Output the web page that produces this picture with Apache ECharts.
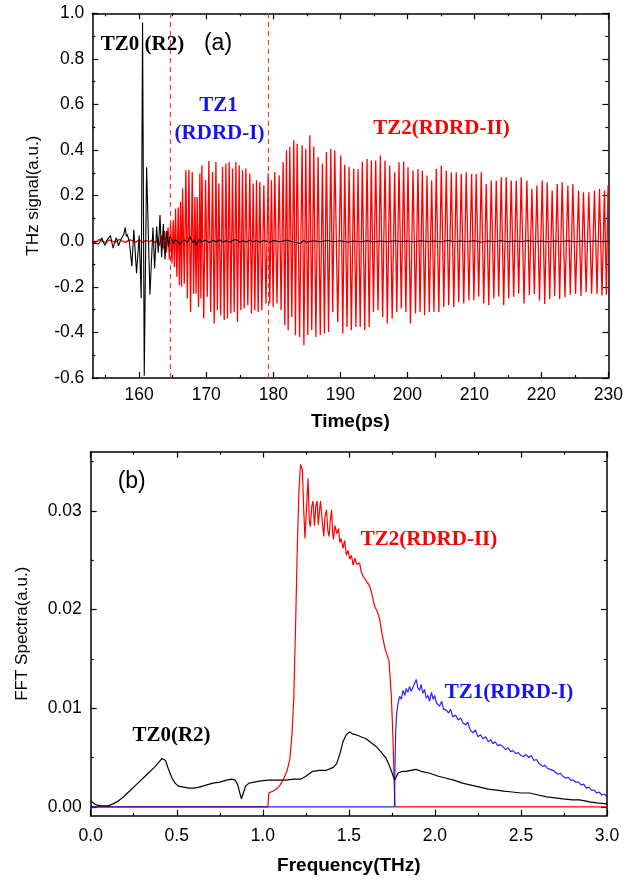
<!DOCTYPE html>
<html><head><meta charset="utf-8">
<script src="https://cdn.jsdelivr.net/npm/echarts@6/dist/echarts.min.js"></script>
<style>html,body{margin:0;padding:0;background:#fff}#c{width:626px;height:882px}</style>
</head><body><div id="c"></div><script>
// ---------- Data (a): time-domain THz signal ----------
const timeMajor = [160,170,180,190,200,210,220,230];
const timeMinor = [155,165,175,185,195,205,215,225];
const signalMajor = [-0.6,-0.4,-0.2,0.0,0.2,0.4,0.6,0.8,1.0];
const signalMinor = [-0.5,-0.3,-0.1,0.1,0.3,0.5,0.7,0.9];
const dashedTimes = [164.7, 179.2];

const blackSignal = [
[153.0,0.0],[153.4,-0.01],[153.9,-0.012],[154.2,0.0],[154.4,0.015],[154.7,-0.008],[154.9,-0.018],[155.2,0.005],[155.4,0.012],[155.7,0.025],[155.9,0.03],[156.1,-0.03],[156.4,0.0],[156.6,0.015],[156.9,-0.02],[157.1,-0.025],[157.3,0.01],[157.5,0.012],[157.7,0.03],[157.9,0.06],[158.1,0.02],[158.2,0.03],[158.5,0.003],[158.7,-0.05],[158.9,-0.11],[159.2,0.05],[159.6,-0.14],[160.0,0.025],[160.3,-0.25],[160.5,0.96],[160.75,-0.59],[161.1,0.325],[161.6,-0.235],[162.05,0.06],[162.3,-0.12],[162.6,0.065],[162.84,-0.05],[163.1,0.115],[163.34,-0.07],[163.6,0.075],[163.85,-0.08],[164.1,0.045],[164.35,-0.025],[164.58,0.02],
[164.8,0.015],[165.1,-0.01],[165.35,0.008],[165.6,0.015],[165.85,-0.005],[166.07,-0.015],[166.4,0.0],[166.8,0.005],[167.2,-0.006],[167.56,0.022],[167.8,0.004],[168.06,-0.005],[168.3,0.006],[168.55,-0.018],[168.8,0.0],[169.05,0.01],[169.3,-0.004],[169.55,-0.01],[169.8,0.004],[170.05,0.005],[170.5,-0.006],[171.0,0.004],[171.5,-0.003],[172.0,0.006],[172.5,-0.004],[173.0,0.003],[173.5,-0.005],[174.0,0.004],[174.5,0.008],[175.0,-0.004],[175.5,0.002],[176.0,-0.003],[176.5,0.004],[177.0,-0.002],[177.5,0.003],[178.0,-0.004],[178.5,0.003],[179.0,0.0],[179.5,-0.004],[180,0.003],[181,-0.002],[182,0.004],[183,-0.003],[184,-0.01],[184.5,0.003],[185,-0.004],[186,0.002],[187,-0.002],[188,0.003],[189,-0.002],[190,0.002],[191,-0.003],[192,0.001],[193,-0.002],[194,0.002],[195,-0.002],[196,0.001],[197,-0.002],[198,0.002],[199,-0.001],[200,0.001],[201,-0.002],[202,0.002],[203,-0.001],[204,0.001],[205,-0.002],[206,0.003],[207,-0.001],[208,0.001],[209,-0.001],[210,0.002],[211,-0.003],[212,0.001],[213,-0.001],[214,0.002],[215,-0.002],[216,0.001],[217,-0.001],[218,0.002],[219,-0.001],[220,0.001],[221,-0.002],[222,0.001],[223,-0.001],[224,0.002],[225,-0.002],[226,0.001],[227,-0.001],[228,0.001],[229,-0.001],[230,0.0]
];

const redSignal = [
[153,0.004],[153.5,-0.006],[154,0.008],[154.5,0.0],[155,-0.006],[155.5,0.005],[156,0.0],[156.5,-0.004],[157,0.008],[157.5,0.0],[158,-0.005],[158.5,0.006],[159,0.003],[159.5,-0.004],[160,0.006],[160.5,-0.006],[161,0.004],[161.5,-0.003],[162,0.006],[162.4,-0.008],[162.8,0.012],[163.05,-0.02],[163.3,0.025],[163.55,-0.035],[163.8,0.045],[164.05,-0.05],[164.3,0.06],[164.5,-0.08],
[164.68,0.085],[164.88,-0.098],[165.08,0.092],[165.25,-0.113],[165.42,0.143],[165.62,-0.156],[165.82,0.148],[166.0,-0.193],[166.17,0.173],[166.32,-0.200],[166.47,0.231],[166.72,-0.186],[166.96,0.311],[167.18,-0.251],[167.41,0.314],[167.66,-0.310],[167.91,0.304],[168.11,-0.230],[168.31,0.194],[168.48,-0.230],[168.65,0.194],[168.85,-0.288],[169.05,0.297],[169.2,-0.251],[169.35,0.333],[169.62,-0.339],[169.90,0.268],[170.15,-0.244],[170.39,0.352],[170.66,-0.310],[170.94,0.304],[171.19,-0.361],[171.44,0.348],[171.66,-0.303],[171.88,0.253],[172.15,-0.325],[172.43,0.326],[172.68,-0.346],[172.93,0.341],[173.17,-0.339],[173.42,0.348],[173.67,-0.317],[173.92,0.319],[174.17,-0.310],[174.42,0.348],[174.66,-0.354],[174.91,0.333],[175.16,-0.303],[175.41,0.311],[175.66,-0.295],[175.91,0.319],[176.2,-0.281],[176.50,0.297],[176.75,-0.317],[177.00,0.253],[177.25,-0.303],[177.50,0.268],[177.75,-0.310],[177.99,0.260],[178.29,-0.303],[178.59,0.246],[178.91,-0.273],[179.24,0.297],[179.48,-0.273],[179.73,0.268],[179.98,-0.288],[180.23,0.304],[180.55,-0.273],[180.88,0.289],[181.17,-0.303],[181.47,0.348],[181.72,-0.368],[181.97,0.399],[182.22,-0.390],[182.47,0.414],[182.76,-0.332],[183.06,0.443],[183.31,-0.412],[183.56,0.428],[183.93,-0.420],[184.30,0.421],[184.57,-0.456],[184.85,0.406],[185.15,-0.412],[185.45,0.465],[185.74,-0.390],[186.04,0.414],[186.36,-0.420],[186.69,0.370],[187.01,-0.412],[187.33,0.341],[187.63,-0.405],[187.93,0.392],[188.25,-0.398],[188.58,0.406],[188.87,-0.310],[189.17,0.399],[189.62,-0.354],
[190.07,0.376],[190.37,-0.405],[190.66,0.335],[191.0,-0.376],[191.31,0.327],[191.65,-0.390],[192.00,0.317],[192.33,-0.376],[192.65,0.317],[192.97,-0.376],[193.29,0.349],[193.64,-0.390],[193.99,0.361],[194.31,-0.376],[194.63,0.354],[194.95,-0.310],[195.28,0.354],[195.63,-0.303],[195.98,0.376],[196.32,-0.332],[196.67,0.354],[197.02,-0.361],[197.37,0.332],[197.74,-0.339],[198.11,0.303],[198.43,-0.310],[198.76,0.346],[199.1,-0.295],[199.45,0.349],[199.78,-0.310],[200.10,0.325],[200.47,-0.361],[200.85,0.310],[201.22,-0.317],[201.59,0.317],[201.9,-0.310],[202.24,0.310],[202.58,-0.325],[202.93,0.288],[203.28,-0.310],[203.63,0.266],[203.97,-0.310],[204.32,0.317],[204.7,-0.310],[205.07,0.332],[205.44,-0.288],[205.81,0.310],[206.18,-0.281],[206.56,0.303],[206.93,-0.288],[207.30,0.303],[207.67,-0.266],[208.05,0.295],[208.42,-0.273],[208.79,0.303],[209.19,-0.259],[209.59,0.295],[209.93,-0.259],[210.28,0.295],[210.65,-0.244],[211.03,0.303],[211.4,-0.273],[211.77,0.251],[212.15,-0.281],[212.52,0.266],[212.9,-0.251],[213.27,0.266],[213.64,-0.244],[214.01,0.281],[214.38,-0.281],[214.76,0.281],[215.13,-0.251],[215.50,0.266],[215.87,-0.244],[216.25,0.266],[216.62,-0.230],[216.99,0.281],[217.41,-0.273],[217.84,0.266],[218.21,-0.237],[218.58,0.230],[218.95,-0.231],[219.33,0.244],[219.72,-0.260],[220.12,0.266],[220.5,-0.275],[220.87,0.259],[221.24,-0.253],[221.61,0.222],[221.98,-0.240],[222.36,0.251],[222.73,-0.253],[223.10,0.259],[223.52,-0.246],[223.95,0.244],[224.32,-0.235],[224.69,0.251],[225.1,-0.231],[225.54,0.222],[225.91,-0.240],[226.28,0.215],[226.68,-0.224],[227.08,0.215],[227.5,-0.230],[227.92,0.222],[228.3,-0.231],[228.67,0.230],[229.04,-0.238],[229.41,0.222],[229.7,-0.235],[229.95,0.244]
];

// ---------- Data (b): FFT spectra ----------
const freqMajor = [0,0.5,1.0,1.5,2.0,2.5,3.0];
const freqMinor = [0.25,0.75,1.25,1.75,2.25,2.75];
const specMajor = [0,0.01,0.02,0.03];
const specMinor = [0.005,0.015,0.025,0.035];

const specBlack = [
[0,0.0006],[0.01,0.0004],[0.03,0.0002],[0.06,0.0001],[0.1,0.0001],[0.13,0.0003],[0.16,0.0006],[0.19,0.001],[0.22,0.0015],[0.25,0.002],[0.28,0.0025],[0.31,0.003],[0.34,0.0035],[0.37,0.004],[0.4,0.0046],[0.415,0.0049],[0.425,0.005],[0.435,0.0047],[0.45,0.0039],[0.47,0.003],[0.49,0.0024],[0.51,0.0021],[0.54,0.002],[0.57,0.0019],[0.6,0.0019],[0.63,0.002],[0.67,0.0022],[0.71,0.0024],[0.75,0.0025],[0.79,0.0027],[0.82,0.0028],[0.84,0.0027],[0.855,0.0022],[0.868,0.0013],[0.876,0.0008],[0.885,0.0013],[0.9,0.0021],[0.92,0.0024],[0.95,0.0025],[0.98,0.0026],[1.03,0.0027],[1.08,0.0027],[1.13,0.0027],[1.18,0.0028],[1.22,0.0028],[1.25,0.0031],[1.29,0.0036],[1.33,0.0037],[1.37,0.0037],[1.41,0.004],[1.43,0.0044],[1.45,0.0055],[1.466,0.0066],[1.485,0.0073],[1.505,0.0076],[1.52,0.0074],[1.543,0.0073],[1.57,0.0071],[1.6,0.0069],[1.63,0.0065],[1.66,0.0061],[1.69,0.0055],[1.717,0.0049],[1.735,0.0042],[1.752,0.0034],[1.766,0.0027],[1.775,0.003],[1.785,0.0034],[1.81,0.0036],[1.834,0.0036],[1.86,0.0037],[1.89,0.0038],[1.92,0.0036],[1.97,0.0034],[2.02,0.0031],[2.066,0.0029],[2.11,0.0027],[2.16,0.0024],[2.21,0.0022],[2.26,0.002],[2.31,0.0018],[2.356,0.0017],[2.4,0.0016],[2.45,0.0015],[2.5,0.0014],[2.55,0.0014],[2.6,0.0012],[2.65,0.001],[2.7,0.0009],[2.743,0.0008],[2.8,0.0007],[2.84,0.0007],[2.9,0.0005],[2.94,0.0004],[3.0,0.0003]
];

const specRed = [
[0,0],[1.03,0],[1.035,0.0014],[1.06,0.0016],[1.08,0.0018],[1.1,0.0022],[1.12,0.0028],[1.14,0.0036],[1.157,0.0048],[1.17,0.0075],[1.18,0.011],[1.19,0.018],[1.2,0.026],[1.21,0.032],[1.219,0.0347],[1.23,0.0342],[1.238,0.030],[1.245,0.0272],[1.253,0.027],[1.263,0.0333],[1.27,0.029],[1.276,0.0284],[1.285,0.0305],[1.292,0.031],[1.3,0.0285],[1.308,0.0305],[1.316,0.031],[1.322,0.0286],[1.327,0.0285],[1.335,0.031],[1.341,0.031],[1.348,0.0285],[1.354,0.0274],[1.362,0.0295],[1.37,0.0301],[1.378,0.028],[1.385,0.0274],[1.392,0.029],[1.4,0.0301],[1.405,0.028],[1.41,0.0271],[1.42,0.0285],[1.43,0.0277],[1.44,0.0282],[1.447,0.0268],[1.455,0.0272],[1.466,0.0262],[1.475,0.027],[1.486,0.0255],[1.495,0.026],[1.505,0.0251],[1.515,0.0255],[1.525,0.0245],[1.535,0.0252],[1.545,0.0246],[1.555,0.0244],[1.563,0.0247],[1.572,0.0238],[1.582,0.0234],[1.592,0.0236],[1.605,0.0228],[1.621,0.0224],[1.635,0.0215],[1.65,0.0203],[1.665,0.0198],[1.679,0.019],[1.69,0.0178],[1.708,0.0162],[1.72,0.0155],[1.733,0.0148],[1.74,0.013],[1.746,0.0115],[1.752,0.009],[1.758,0.006],[1.764,0.002],[1.768,0],[3.0,0]
];

const specBlue = [
[0,0],[1.765,0],[1.768,0.004],[1.772,0.0075],[1.778,0.0095],[1.785,0.0104],[1.795,0.0112],[1.805,0.0109],[1.815,0.0118],[1.825,0.0113],[1.834,0.012],[1.843,0.0116],[1.853,0.0122],[1.862,0.0117],[1.872,0.0121],[1.882,0.0119],[1.892,0.0129],[1.9,0.0121],[1.911,0.0118],[1.92,0.0124],[1.93,0.0115],[1.94,0.0119],[1.95,0.011],[1.96,0.0113],[1.969,0.0107],[1.98,0.0116],[1.99,0.0109],[1.998,0.0113],[2.01,0.0105],[2.027,0.0102],[2.04,0.0107],[2.05,0.0099],[2.066,0.0098],[2.08,0.0095],[2.09,0.0099],[2.105,0.0091],[2.12,0.0093],[2.135,0.0088],[2.15,0.009],[2.163,0.0085],[2.18,0.0083],[2.19,0.0086],[2.205,0.0078],[2.221,0.0075],[2.235,0.0078],[2.25,0.0071],[2.265,0.0073],[2.279,0.0069],[2.295,0.0071],[2.31,0.0066],[2.325,0.0068],[2.337,0.0064],[2.35,0.0066],[2.365,0.0062],[2.38,0.0063],[2.395,0.0061],[2.41,0.0058],[2.425,0.006],[2.44,0.0056],[2.453,0.0057],[2.47,0.0054],[2.485,0.0055],[2.5,0.0052],[2.515,0.0051],[2.53,0.0053],[2.545,0.005],[2.56,0.0052],[2.575,0.0047],[2.59,0.0048],[2.605,0.0044],[2.627,0.0041],[2.64,0.0042],[2.655,0.0039],[2.67,0.0038],[2.685,0.0037],[2.7,0.0035],[2.715,0.0033],[2.73,0.0034],[2.743,0.0031],[2.76,0.0029],[2.775,0.003],[2.79,0.0027],[2.805,0.0027],[2.82,0.0025],[2.835,0.0025],[2.85,0.0022],[2.865,0.0023],[2.88,0.0019],[2.895,0.002],[2.91,0.0017],[2.925,0.0017],[2.94,0.0014],[2.955,0.0015],[2.97,0.0012],[2.985,0.0013],[3.0,0.001]
];

// ---------- Axes helpers ----------
const SANS = 'Liberation Sans';
const SERIF = 'Liberation Serif';
const LBL = {color:'#000', fontSize:17.5, fontFamily:SANS};
const NAME_BOLD = {color:'#000', fontSize:19, fontWeight:'bold', fontFamily:SANS};
const NAME_NORM = {color:'#000', fontSize:17, fontFamily:SANS};

function axisSet(dim, grid, min, max, major, minor, fmt, nm, gap, margin) {
  const sides = dim === 'x' ? ['bottom','top'] : ['left','right'];
  const out = [];
  sides.forEach((pos, si) => {
    [major, minor].forEach((vals, mi) => {
      const main = si === 0 && mi === 0;
      const a = {
        type:'value', gridIndex:grid, min:min, max:max, position:pos,
        axisLine:{show: mi === 0, onZero:false, lineStyle:{color:'#000', width:1.5}},
        axisTick:{show:true, inside:true, length: mi === 0 ? 6 : 3, customValues:vals, lineStyle:{color:'#000', width:1.2}},
        axisLabel: main ? Object.assign({show:true, customValues:vals, formatter:fmt, margin:margin}, LBL) : {show:false},
        splitLine:{show:false}, minorTick:{show:false}, axisPointer:{show:false}
      };
      if (main) {
        a.name = nm; a.nameLocation = 'middle'; a.nameGap = gap;
        if (dim === 'y') { a.nameRotate = 90; a.nameTextStyle = NAME_NORM; }
        else { a.nameTextStyle = NAME_BOLD; }
      }
      out.push(a);
    });
  });
  return out;
}

const xAxes = [].concat(
  axisSet('x', 0, 153, 230, timeMajor, timeMinor, v => String(v), 'Time(ps)', 34, 8),
  axisSet('x', 1, 0, 3, freqMajor, freqMinor, v => v.toFixed(1), 'Frequency(THz)', 41, 11)
);
const yAxes = [].concat(
  axisSet('y', 0, -0.6, 1.0, signalMajor, signalMinor, v => v.toFixed(1), 'THz signal(a.u.)', 50, 8),
  axisSet('y', 1, -0.0009, 0.036, specMajor, specMinor, v => v.toFixed(2), 'FFT Spectra(a.u.)', 60, 9)
);

function txt(text, x, y, color, font) {
  return {type:'text', x:x, y:y, silent:true, z:100,
    style:{text:text, fill:color, font:font, align:'center', verticalAlign:'middle'}};
}
const SERIF_B = 'bold 21px "' + SERIF + '"';
const PANEL = '23px "' + SANS + '"';
const BLUE = '#1414f0', RED = '#ff0000';

const option = {
  animation:false,
  backgroundColor:'#fff',
  grid:[
    {left:92.3, top:13.3, width:517.7, height:364.7, containLabel:false},
    {left:90.7, top:451.7, width:516.3, height:364, containLabel:false}
  ],
  xAxis:xAxes,
  yAxis:yAxes,
  series:[
    {type:'line', xAxisIndex:0, yAxisIndex:0, data:redSignal, showSymbol:false, symbol:'none',
     lineStyle:{color:'#ff0000', width:1.3}, z:2,
     markLine:{silent:true, symbol:['none','none'], label:{show:false},
       lineStyle:{color:'#ff3030', type:[5,4], width:1.1},
       data: dashedTimes.map(t => ({xAxis:t}))}},
    {type:'line', xAxisIndex:0, yAxisIndex:0, data:blackSignal, showSymbol:false, symbol:'none',
     lineStyle:{color:'#000', width:1.1}, z:3},
    {type:'line', xAxisIndex:4, yAxisIndex:4, data:specRed, showSymbol:false, symbol:'none',
     lineStyle:{color:'#ff0000', width:1.2}, z:2},
    {type:'line', xAxisIndex:4, yAxisIndex:4, data:specBlue, showSymbol:false, symbol:'none',
     lineStyle:{color:'#0000ff', width:1.2, opacity:0.85}, z:3},
    {type:'line', xAxisIndex:4, yAxisIndex:4, data:specBlack, showSymbol:false, symbol:'none',
     lineStyle:{color:'#000', width:1.2}, z:4}
  ],
  graphic:[
    txt('TZ0 (R2)', 142.5, 45, '#000', SERIF_B),
    txt('(a)', 218, 44, '#000', PANEL),
    txt('TZ1', 218.5, 106, BLUE, SERIF_B),
    txt('(RDRD-I)', 219.5, 134, BLUE, SERIF_B),
    txt('TZ2(RDRD-II)', 441.5, 129, RED, SERIF_B),
    txt('(b)', 131.7, 482, '#000', PANEL),
    txt('TZ2(RDRD-II)', 429, 540, RED, SERIF_B),
    txt('TZ1(RDRD-I)', 509, 692.5, BLUE, SERIF_B),
    txt('TZ0(R2)', 171.5, 736, '#000', SERIF_B)
  ]
};
const chart = echarts.init(document.getElementById('c'), null, {renderer:'canvas'});
chart.setOption(option);
</script></body></html>
